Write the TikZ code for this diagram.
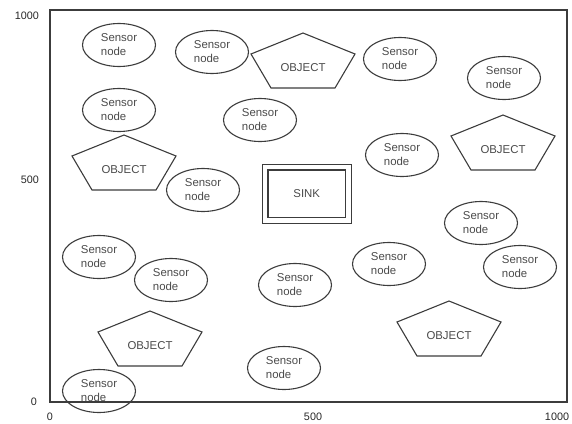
\documentclass[tikz,border=0pt]{standalone}
\usepackage{fontspec}
\setmainfont{Liberation Sans}
\usetikzlibrary{shapes.geometric}
\definecolor{linegray}{HTML}{3C3C3C}
\definecolor{textgray}{HTML}{4A4A4A}
\begin{document}
\begin{tikzpicture}[
    x = 1pt,
    y = -1pt,
    sensor/.style = {
        ellipse,
        draw = linegray,
        line width = 1.1pt,
        minimum width = 73pt,
        minimum height = 43pt,
        inner sep = 0pt,
        align = left,
        text = textgray,
        font = \fontsize{11.4}{14}\selectfont
    },
    object/.style = {
        inner sep = 0pt,
        text = textgray,
        font = \fontsize{11.4}{14}\selectfont
    },
    outline/.style = {
        draw = linegray,
        line width = 1.1pt,
        line join = miter
    },
    sinkbox/.style = {
        rectangle,
        draw = linegray,
        double = white,
        double distance = 4.8pt,
        line width = 1.1pt,
        minimum width = 83.5pt,
        minimum height = 53.5pt,
        text = textgray,
        font = \fontsize{11.4}{14}\selectfont
    },
    axislabel/.style = {
        inner sep = 0pt,
        text = black!85,
        font = \fontsize{10.8}{13}\selectfont
    }
]
    \useasboundingbox (0,0) rectangle (572,423);

    % Frame and axis
    \draw [outline] (50,10) rectangle (567,402);
    \node [axislabel, anchor = east] (y1000) at (39,16) {1000};
    \node [axislabel, anchor = east] (y500) at (39,180) {500};
    \node [axislabel, anchor = east] (y0) at (37,402) {0};
    \node [axislabel] (x0) at (50,417) {0};
    \node [axislabel] (x500) at (313,417) {500};
    \node [axislabel] (x1000) at (557,417) {1000};

    % Sensor nodes
    \node [sensor] (s1) at (119,45) {Sensor\\node};
    \node [sensor] (s2) at (212,52) {Sensor\\node};
    \node [sensor] (s3) at (400,59) {Sensor\\node};
    \node [sensor] (s4) at (504,78) {Sensor\\node};
    \node [sensor] (s5) at (119,110) {Sensor\\node};
    \node [sensor] (s6) at (260,120) {Sensor\\node};
    \node [sensor] (s7) at (402,155) {Sensor\\node};
    \node [sensor] (s8) at (203,190) {Sensor\\node};
    \node [sensor] (s9) at (481,223) {Sensor\\node};
    \node [sensor] (s10) at (99,257) {Sensor\\node};
    \node [sensor] (s11) at (171,280) {Sensor\\node};
    \node [sensor] (s12) at (295,285) {Sensor\\node};
    \node [sensor] (s13) at (389,264) {Sensor\\node};
    \node [sensor] (s14) at (520,267) {Sensor\\node};
    \node [sensor] (s15) at (284,368) {Sensor\\node};
    \node [sensor] (s16) at (99,391) {Sensor\\node};

    % Objects
    \node [object] (obj1) at (303,68) {OBJECT};
    \node [object] (obj2) at (124,170) {OBJECT};
    \node [object] (obj3) at (503,150) {OBJECT};
    \node [object] (obj4) at (150,346) {OBJECT};
    \node [object] (obj5) at (449,336) {OBJECT};
    \foreach \o in {obj1, obj2, obj3, obj4, obj5}
        \draw [outline, shift = {(\o.center)}]
            (0,-35) -- (52,-14) -- (32,20) -- (-32,20) -- (-52,-14) -- cycle;

    % Sink
    \node [sinkbox] (sink) at (306.75,193.75) {SINK};

\end{tikzpicture}
\end{document}
